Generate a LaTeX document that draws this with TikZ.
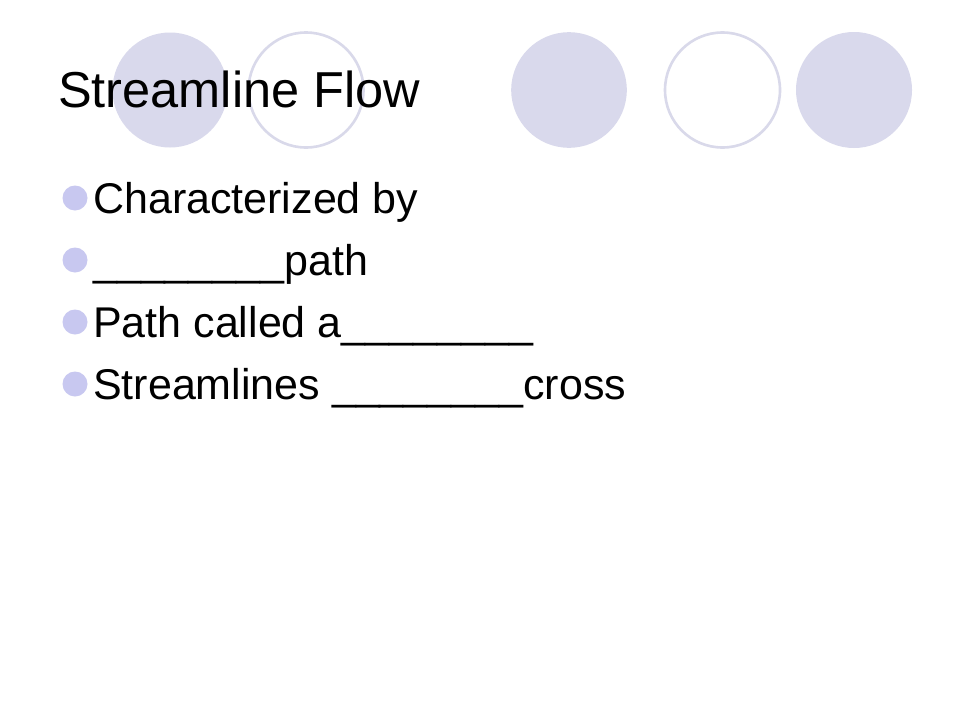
\documentclass[tikz,border=0pt]{standalone}
\usepackage{fontspec}
\setmainfont{Liberation Sans}
\definecolor{circfill}{HTML}{D9D9EC}
\definecolor{circline}{HTML}{D9D9EA}
\definecolor{bulletc}{HTML}{C8C8F0}
\tikzset{
  fillcirc/.style={fill=circfill, draw=none},
  ringcirc/.style={draw=circline, line width=2.6pt, fill=none},
  bulletdot/.style={circle, fill=bulletc, inner sep=0pt, minimum size=25pt},
  titletext/.style={anchor=base west, inner sep=0pt, font=\fontsize{50.5}{60}\selectfont},
  itemtext/.style={anchor=base west, inner sep=0pt, font=\fontsize{43}{50}\selectfont}
}
\begin{document}
\begin{tikzpicture}[x=1pt,y=-1pt]
\useasboundingbox (0,0) rectangle (960,720);
\fill[white] (0,0) rectangle (960,720);
% decorative circles
\fill[fillcirc] (170,90) circle[radius=57.5];
\draw[ringcirc] (306,90) circle[radius=57.5];
\fill[fillcirc] (569,90) circle[radius=57.8];
\draw[ringcirc] (722.5,90) circle[radius=57.5];
\fill[fillcirc] (854,90) circle[radius=58];
% title
\node[titletext] (title) at (58,107) {Streamline Flow};
% bullets
\node[bulletdot] (b1) at (75,198) {};
\node[itemtext] (t1) at (93,213) {Characterized by};
\node[bulletdot] (b2) at (75,260) {};
\node[itemtext] (t2) at (93,275) {\_\_\_\_\_\_\_\_path};
\node[bulletdot] (b3) at (75,322) {};
\node[itemtext] (t3) at (93,337) {Path called a\_\_\_\_\_\_\_\_};
\node[bulletdot] (b4) at (75,384) {};
\node[itemtext] (t4) at (93,399) {Streamlines \_\_\_\_\_\_\_\_cross};
\end{tikzpicture}
\end{document}
